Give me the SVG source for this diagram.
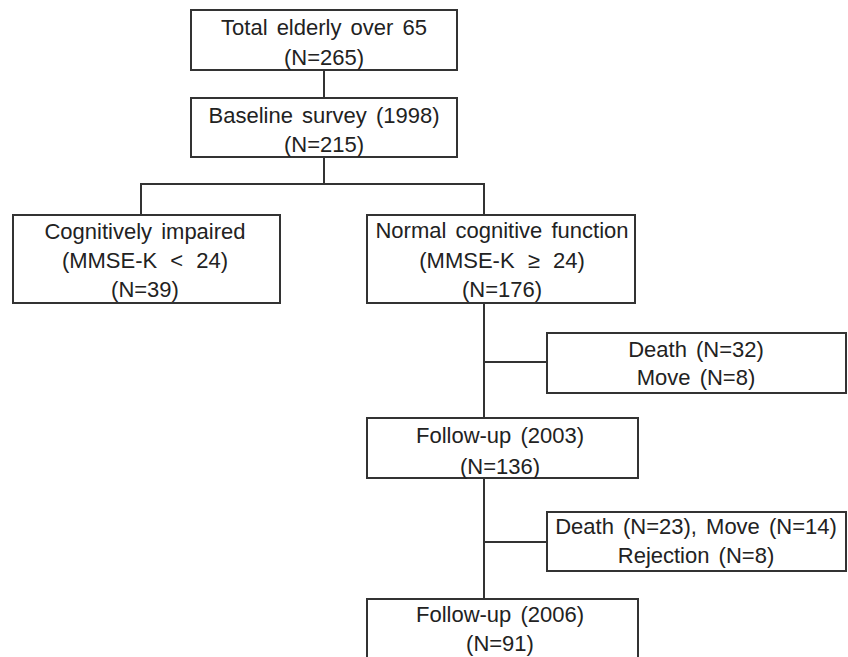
<svg xmlns="http://www.w3.org/2000/svg" width="848" height="657" viewBox="0 0 848 657">
<style>
.box{fill:#fff;stroke:#333;stroke-width:2}
#connectors line,#connectors polyline{stroke:#333;stroke-width:2;fill:none}
text{font-family:"Liberation Sans",Arial,sans-serif;font-size:22px;fill:#222;text-anchor:middle;word-spacing:3px}
.ws{word-spacing:7px}
</style>
<rect width="848" height="657" fill="#fff"/>
<g id="connectors">
<line x1="324" y1="70" x2="324" y2="98"/>
<line x1="324" y1="157" x2="324" y2="184"/>
<polyline points="141,215 141,184 484,184 484,215"/>
<line x1="484" y1="303" x2="484" y2="418"/>
<line x1="484" y1="362" x2="547" y2="362"/>
<line x1="484" y1="478" x2="484" y2="599"/>
<line x1="484" y1="542" x2="547" y2="542"/>
</g>
<g id="total">
<rect class="box" x="191" y="10" width="266" height="60"/>
<text x="324" y="35">Total elderly over 65</text>
<text x="324" y="65">(N=265)</text>
</g>
<g id="baseline">
<rect class="box" x="191" y="98" width="266" height="59"/>
<text x="324" y="123">Baseline survey (1998)</text>
<text x="324" y="152">(N=215)</text>
</g>
<g id="impaired">
<rect class="box" x="13" y="215" width="267" height="88"/>
<text x="145" y="239">Cognitively impaired</text>
<text class="ws" x="145" y="268">(MMSE-K &lt; 24)</text>
<text x="145" y="297">(N=39)</text>
</g>
<g id="normal">
<rect class="box" x="367" y="215" width="268" height="88"/>
<text x="502" y="238">Normal cognitive function</text>
<text class="ws" x="502" y="268">(MMSE-K ≥ 24)</text>
<text x="502" y="297">(N=176)</text>
</g>
<g id="loss1">
<rect class="box" x="547" y="333" width="299" height="60"/>
<text x="696" y="357">Death (N=32)</text>
<text x="696" y="385">Move (N=8)</text>
</g>
<g id="followup2003">
<rect class="box" x="367" y="418" width="271" height="60"/>
<text x="500" y="443">Follow-up (2003)</text>
<text x="500" y="474">(N=136)</text>
</g>
<g id="loss2">
<rect class="box" x="547" y="512" width="299" height="59"/>
<text x="696" y="534">Death (N=23), Move (N=14)</text>
<text x="696" y="563">Rejection (N=8)</text>
</g>
<g id="followup2006">
<rect class="box" x="367" y="599" width="271" height="70"/>
<text x="500" y="622">Follow-up (2006)</text>
<text x="500" y="651">(N=91)</text>
</g>
</svg>
